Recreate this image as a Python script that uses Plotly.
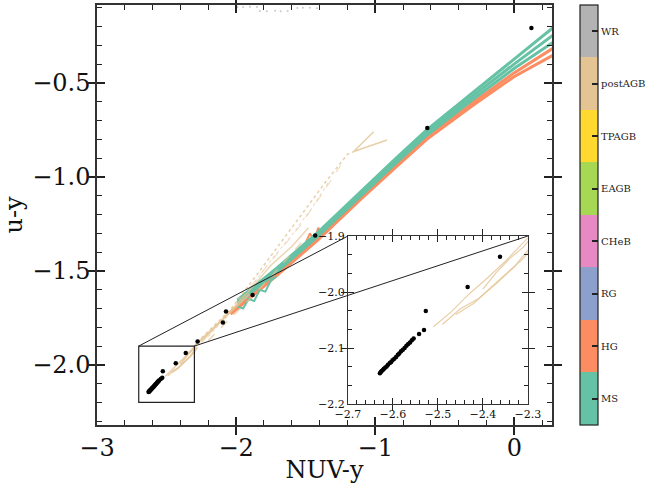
import plotly.graph_objects as go

# ---------------- data ----------------
stages = ["MS", "HG", "RG", "CHeB", "EAGB", "TPAGB", "postAGB", "WR"]
stage_colors = ["#66c2a5", "#fc8d62", "#8da0cb", "#e78ac3",
                "#a6d854", "#ffd92f", "#e5c494", "#b3b3b3"]

# MS tracks (green band)
ms_x = [-1.99, -1.70, -1.42, -1.10, -0.85, -0.63, -0.30, 0.00, 0.32]
ms1_y = [-1.655, -1.48, -1.30, -1.075, -0.90, -0.75, -0.55, -0.372, -0.18]
ms2_y = [-1.665, -1.49, -1.31, -1.087, -0.913, -0.765, -0.57, -0.398, -0.222]
ms3_y = [-1.675, -1.50, -1.32, -1.097, -0.925, -0.778, -0.588, -0.422, -0.262]
msw_x = [-1.99, -1.95, -1.91, -1.87, -1.83, -1.79, -1.75, -1.71]
msw_y = [-1.69, -1.70, -1.65, -1.66, -1.60, -1.61, -1.55, -1.53]

# HG tracks (orange band)
hg_x = [-2.04, -1.70, -1.42, -1.10, -0.85, -0.63, -0.30, 0.00, 0.32]
hg1_y = [-1.72, -1.51, -1.33, -1.107, -0.937, -0.79, -0.605, -0.445, -0.295]
hg2_y = [-1.73, -1.52, -1.34, -1.115, -0.947, -0.80, -0.62, -0.465, -0.335]
hgs_x = [-1.56, -1.50, -1.47, -1.44, -1.41, -1.38, -1.35, -1.33]
hgs_y = [-1.40, -1.35, -1.30, -1.34, -1.27, -1.31, -1.25, -1.28]

# postAGB tracks (tan)
pa_x = [-2.28, -2.04, -1.80, -1.55, -1.35, -1.20, -1.155]
pa_y = [-1.88, -1.705, -1.47, -1.22, -1.02, -0.880, -0.865]
pb_x = [-2.25, -2.00, -1.80, -1.55, -1.40, -1.25]
pb_y = [-1.87, -1.68, -1.495, -1.27, -1.11, -0.94]
pc_x = [-2.20, -1.95, -1.78, -1.60, -1.45, -1.33]
pc_y = [-1.85, -1.65, -1.47, -1.31, -1.16, -1.02]
pv_x = [-1.012, -1.155, -0.916]
pv_y = [-0.759, -0.865, -0.803]
pd_x = [-2.25, -2.05, -1.90, -1.75, -1.60, -1.48]
pd_y = [-1.88, -1.72, -1.60, -1.47, -1.37, -1.27]
pe_x = [-2.20, -2.00, -1.85, -1.70, -1.52]
pe_y = [-1.87, -1.72, -1.61, -1.49, -1.34]
pf_x = [-2.30, -2.20, -2.10, -2.00, -1.90]
pf_y = [-1.90, -1.83, -1.76, -1.69, -1.62]
t1_x = [-2.51, -2.47, -2.43, -2.39, -2.35, -2.31, -2.29]
t1_y = [-2.062, -2.035, -2.003, -1.975, -1.945, -1.912, -1.895]
t2_x = [-2.49, -2.45, -2.41, -2.37, -2.33, -2.30, -2.28]
t2_y = [-2.058, -2.030, -2.012, -1.985, -1.955, -1.925, -1.905]
t3_x = [-2.46, -2.42, -2.38, -2.34, -2.31, -2.28]
t3_y = [-2.040, -2.020, -1.990, -1.962, -1.940, -1.910]
t4_x = [-2.40, -2.37, -2.34, -2.31, -2.29]
t4_y = [-1.995, -1.965, -1.940, -1.920, -1.900]

# WR points (gray, top)
wr_x = [-1.99, -1.95, -1.90, -1.85, -1.83, -1.78, -1.72, -1.68, -1.63, -1.56, -1.52, -1.47, -1.42]
wr_y = [-0.096, -0.095, -0.094, -0.096, -0.117, -0.118, -0.116, -0.118, -0.117, -0.101, -0.099, -0.100, -0.102]

# black model points
bk_x = [0.122, -0.626, -1.432, -1.882, -2.073, -2.095, -2.277, -2.362, -2.434,
        -2.527, -2.531, -2.542,
        -2.554, -2.558, -2.562, -2.566, -2.570, -2.574, -2.578, -2.582, -2.586,
        -2.589, -2.593, -2.597, -2.601, -2.604, -2.607, -2.611, -2.614, -2.617,
        -2.620, -2.622, -2.625, -2.627, -2.629]
bk_y = [-0.207, -0.739, -1.311, -1.628, -1.716, -1.774, -1.876, -1.937, -1.991,
        -2.034, -2.068, -2.075,
        -2.083, -2.086, -2.090, -2.093, -2.096, -2.100, -2.103, -2.106, -2.110,
        -2.112, -2.116, -2.119, -2.122, -2.125, -2.127, -2.130, -2.133, -2.135,
        -2.137, -2.139, -2.141, -2.143, -2.145]

# ---------------- figure ----------------
XR = [-3.0, 0.27]
YR = [-2.32, -0.085]
IXR = [-2.7, -2.3]
IYR = [-2.2, -1.9]
IX_DOM = [0.5516, 0.947]
IY_DOM = [0.05, 0.45]

FONT = "DejaVu Serif"
TC = "#222"
fig = go.Figure()

def add_line(x, y, color, width=2.5, dash="solid", opacity=1.0, inset=False):
    fig.add_trace(go.Scatter(x=x, y=y, mode="lines",
                             line=dict(color=color, width=width, dash=dash),
                             opacity=opacity, showlegend=False, hoverinfo="skip",
                             xaxis="x2" if inset else "x", yaxis="y2" if inset else "y"))

c_ms, c_hg, c_pa, c_wr = stage_colors[0], stage_colors[1], stage_colors[6], stage_colors[7]

# orange then green
add_line(hg_x, hg2_y, c_hg, 3)
add_line(hg_x, hg1_y, c_hg, 3)
add_line(hgs_x, hgs_y, c_hg, 2)
add_line(ms_x, ms3_y, c_ms, 3)
add_line(ms_x, ms2_y, c_ms, 3)
add_line(ms_x, ms1_y, c_ms, 3)
add_line(msw_x, msw_y, c_ms, 2)

# postAGB
tan_sets = [(pa_x, pa_y, 1.5, "dot", 0.8), (pb_x, pb_y, 1, "dash", 0.7),
            (pc_x, pc_y, 1, "dot", 0.7), (pv_x, pv_y, 1.5, "solid", 0.8),
            (pd_x, pd_y, 1.5, "solid", 0.7), (pe_x, pe_y, 1.5, "dash", 0.7),
            (pf_x, pf_y, 2, "solid", 0.8)]
for x, y, w, d, o in tan_sets:
    add_line(x, y, c_pa, w, d, o)
for x, y in [(t1_x, t1_y), (t2_x, t2_y), (t3_x, t3_y), (t4_x, t4_y)]:
    add_line(x, y, c_pa, 1.5, "solid", 0.8)
    add_line(x, y, c_pa, 1.2, "solid", 0.8, inset=True)

# WR
fig.add_trace(go.Scatter(x=wr_x, y=wr_y, mode="markers",
                         marker=dict(color=c_wr, size=2), opacity=0.7,
                         showlegend=False, hoverinfo="skip"))

# black points
fig.add_trace(go.Scatter(x=bk_x, y=bk_y, mode="markers",
                         marker=dict(color="black", size=4.5), showlegend=False))
fig.add_trace(go.Scatter(x=bk_x, y=bk_y, mode="markers", xaxis="x2", yaxis="y2",
                         marker=dict(color="black", size=4.5), showlegend=False))

# invisible traces for minor-tick overlay axes
for xa, ya in [("x3", "y"), ("x", "y3"), ("x4", "y2"), ("x2", "y4")]:
    fig.add_trace(go.Scatter(x=[None], y=[None], xaxis=xa, yaxis=ya, mode="markers",
                             showlegend=False, hoverinfo="skip"))

# colorbar (discrete)
n = len(stages)
cscale = []
for i, c in enumerate(stage_colors):
    cscale.append([i / n, c])
    cscale.append([(i + 1) / n, c])
fig.add_trace(go.Scatter(
    x=[None], y=[None], mode="markers", showlegend=False, hoverinfo="skip",
    marker=dict(color=[0], cmin=0, cmax=n, colorscale=cscale, showscale=True,
                colorbar=dict(
                    x=1.0615, xanchor="left", y=0.5, yanchor="middle",
                    len=1.0, lenmode="fraction", thickness=18, thicknessmode="pixels",
                    xpad=0, ypad=0, outlinewidth=1.2, outlinecolor=TC,
                    tickmode="array", tickvals=[i + 0.5 for i in range(n)], ticktext=stages,
                    ticks="inside", ticklen=6, tickwidth=1.5, tickcolor=TC,
                    tickfont=dict(family=FONT, size=10, color="#222")))))

# rectangle + connectors
fig.add_shape(type="rect", xref="x", yref="y", x0=IXR[0], x1=IXR[1], y0=IYR[0], y1=IYR[1],
              line=dict(color="#222", width=1.2))

def px(v):
    return (v - XR[0]) / (XR[1] - XR[0])

def py(v):
    return (v - YR[0]) / (YR[1] - YR[0])

fig.add_shape(type="line", xref="paper", yref="paper",
              x0=px(IXR[0]), y0=py(IYR[1]), x1=IX_DOM[0], y1=IY_DOM[1],
              line=dict(color="#222", width=1))
fig.add_shape(type="line", xref="paper", yref="paper",
              x0=px(IXR[1]), y0=py(IYR[1]), x1=IX_DOM[1], y1=IY_DOM[1],
              line=dict(color="#222", width=1))

axis_common = dict(showline=True, linecolor="#333", mirror="allticks", ticks="inside",
                   tickcolor=TC, showgrid=False, zeroline=False, tickmode="linear")
minor_common = dict(showline=False, ticks="inside", tickcolor=TC, showgrid=False,
                    zeroline=False, tickmode="linear", showticklabels=False, mirror="allticks")

fig.update_layout(
    width=654, height=484,
    margin=dict(l=97, r=102, t=5, b=59, autoexpand=False),
    paper_bgcolor="white", plot_bgcolor="white",
    font=dict(family=FONT, color="#111"),
    xaxis=dict(range=XR, domain=[0, 1], anchor="y", tick0=-3, dtick=1, tickformat="d",
               ticklen=8, tickwidth=1.6, linewidth=1.5, tickfont=dict(size=24),
               title=dict(text="NUV-y", font=dict(size=24), standoff=0), **axis_common),
    yaxis=dict(range=YR, domain=[0, 1], anchor="x", tick0=-2.0, dtick=0.5, tickformat=".1f",
               ticklen=8, tickwidth=1.6, linewidth=1.5, tickfont=dict(size=24),
               title=dict(text="u-y", font=dict(size=24), standoff=8), **axis_common),
    xaxis3=dict(range=XR, overlaying="x", anchor="y", side="bottom", tick0=-3, dtick=0.2,
                ticklen=5, tickwidth=1.3, **minor_common),
    yaxis3=dict(range=YR, overlaying="y", anchor="x", side="left", tick0=-2.0, dtick=0.1,
                ticklen=5, tickwidth=1.3, **minor_common),
    xaxis2=dict(range=IXR, domain=IX_DOM, anchor="y2", tick0=-2.7, dtick=0.1, tickformat=".1f",
                ticklen=6, tickwidth=1.4, linewidth=1.2, tickfont=dict(size=11), **axis_common),
    yaxis2=dict(range=IYR, domain=IY_DOM, anchor="x2", tick0=-2.2, dtick=0.1, tickformat=".1f",
                ticklen=6, tickwidth=1.4, linewidth=1.2, tickfont=dict(size=11), **axis_common),
    xaxis4=dict(range=IXR, overlaying="x2", anchor="y2", side="bottom", tick0=-2.7, dtick=0.02,
                ticklen=4, tickwidth=1.2, **minor_common),
    yaxis4=dict(range=IYR, overlaying="y2", anchor="x2", side="left", tick0=-2.2, dtick=0.1 / 3,
                ticklen=4, tickwidth=1.2, **minor_common),
)

fig.write_html("out.html", config={"displayModeBar": False},
               post_script="document.body.style.margin='0px';")
